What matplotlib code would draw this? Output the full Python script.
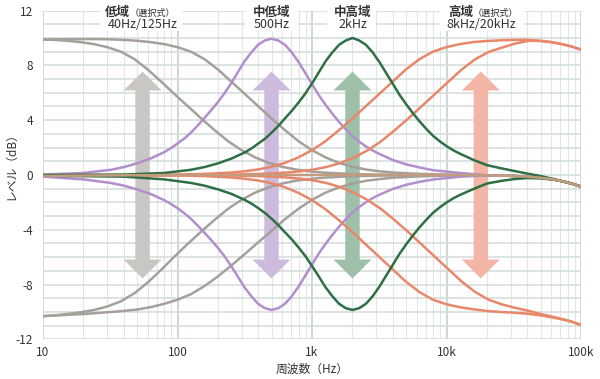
import matplotlib.pyplot as plt
import numpy as np
from matplotlib.patches import Polygon, Rectangle
from matplotlib.transforms import blended_transform_factory

plt.rcParams["font.family"] = ["Noto Sans CJK JP", "DejaVu Sans"]
plt.rcParams["axes.unicode_minus"] = False

# common high-frequency roll-off read at the right edge
TAIL_FREQ = [20000, 30000, 40000, 50000, 60000, 70000, 85000, 100000]
TAIL_LEVEL = [-0.02, -0.06, -0.12, -0.2, -0.3, -0.42, -0.62, -0.85]

# low band shelves (gray)
LOW40_FREQ = [10, 12, 15, 19, 24, 30, 38, 48, 60, 76, 95, 120, 151, 190, 239, 301, 379, 478, 601, 757, 953, 1200, 1900, 3000, 6000]
LOW40_BOOST = [9.9, 9.86, 9.8, 9.7, 9.55, 9.33, 9.0, 8.45, 7.7, 6.8, 5.9, 5.0, 4.1, 3.25, 2.45, 1.8, 1.28, 0.88, 0.6, 0.4, 0.27, 0.18, 0.08, 0.03, 0.0]
LOW40_CUT = [-10.3, -10.25, -10.15, -10.02, -9.85, -9.6, -9.22, -8.62, -7.85, -6.9, -5.95, -5.0, -4.1, -3.25, -2.45, -1.8, -1.28, -0.9, -0.62, -0.42, -0.3, -0.2, -0.1, -0.05, -0.02]

LOW125_FREQ = [10, 20, 25, 32, 40, 50, 63, 80, 100, 126, 159, 200, 252, 318, 400, 504, 634, 798, 1005, 1265, 1592, 2005, 2524, 3177, 4000, 6340, 10050]
LOW125_BOOST = [9.9, 9.92, 9.92, 9.9, 9.86, 9.8, 9.7, 9.55, 9.33, 9.0, 8.45, 7.7, 6.8, 5.9, 5.0, 4.1, 3.25, 2.45, 1.8, 1.28, 0.88, 0.6, 0.4, 0.27, 0.18, 0.08, 0.03]
LOW125_CUT = [-10.3, -10.15, -10.08, -10.0, -9.92, -9.82, -9.65, -9.4, -9.1, -8.7, -8.1, -7.4, -6.6, -5.75, -4.9, -4.05, -3.2, -2.45, -1.8, -1.28, -0.9, -0.62, -0.42, -0.3, -0.2, -0.1, -0.04]

# low-mid bell 500 Hz (purple)
MID500_FREQ = [10, 20, 32, 40, 50, 63, 79, 89, 100, 112, 126, 141, 158, 177, 199, 223, 251, 281, 315, 354, 397, 446,
               500, 561, 630, 707, 794, 891, 998, 1120, 1256, 1409, 1581, 1774, 1991, 2234, 2506, 2812, 3155, 3972, 5000, 6295, 7924, 12560]
MID500_BOOST = [0.03, 0.15, 0.38, 0.58, 0.85, 1.2, 1.65, 1.95, 2.3, 2.65, 3.1, 3.6, 4.15, 4.7, 5.3, 5.95, 6.7, 7.5, 8.3, 8.95, 9.5, 9.82,
                9.95, 9.82, 9.5, 8.95, 8.25, 7.45, 6.65, 5.85, 5.15, 4.5, 3.9, 3.35, 2.85, 2.45, 2.1, 1.8, 1.55, 1.1, 0.78, 0.55, 0.35, 0.15]
MID500_CUT = [-0.12, -0.32, -0.58, -0.78, -1.05, -1.38, -1.82, -2.1, -2.42, -2.78, -3.2, -3.68, -4.2, -4.72, -5.3, -5.92, -6.65, -7.42, -8.2, -8.85, -9.4, -9.72,
              -9.85, -9.72, -9.4, -8.85, -8.15, -7.35, -6.55, -5.75, -5.05, -4.4, -3.8, -3.25, -2.75, -2.35, -2.0, -1.7, -1.45, -1.02, -0.72, -0.5, -0.33, -0.13]

# high-mid bell 2 kHz (green)
MID2K_FREQ = [10, 40, 80, 126, 159, 200, 252, 317, 356, 399, 448, 502, 564, 632, 710, 796, 893, 1002, 1125, 1262, 1416, 1589, 1783,
              2000, 2244, 2518, 2825, 3170, 3557, 3991, 4477, 5024, 5637, 6325, 7096, 7962, 8934, 10024, 11247, 12619, 15887,
              20000, 25179, 31698, 40000, 50238, 63000, 70000, 85000, 100000]
MID2K_BOOST = [0.0, 0.03, 0.15, 0.38, 0.58, 0.85, 1.2, 1.65, 1.95, 2.3, 2.65, 3.1, 3.6, 4.15, 4.7, 5.3, 5.95, 6.7, 7.5, 8.3, 8.95, 9.5, 9.82,
               10.0, 9.82, 9.5, 8.95, 8.25, 7.45, 6.65, 5.85, 5.15, 4.5, 3.9, 3.35, 2.85, 2.45, 2.1, 1.8, 1.55, 1.1,
               0.72, 0.5, 0.3, 0.1, -0.08, -0.3, -0.42, -0.62, -0.85]
MID2K_CUT = [-0.05, -0.12, -0.32, -0.58, -0.78, -1.05, -1.38, -1.82, -2.1, -2.42, -2.78, -3.2, -3.68, -4.2, -4.72, -5.3, -5.92, -6.65, -7.42, -8.2, -8.85, -9.4, -9.72,
             -9.85, -9.72, -9.4, -8.85, -8.15, -7.35, -6.55, -5.75, -5.05, -4.4, -3.8, -3.25, -2.75, -2.35, -2.0, -1.7, -1.45, -1.02,
             -0.62, -0.44, -0.3, -0.22, -0.25, -0.34, -0.42, -0.62, -0.85]

# high band shelves (orange)
HI8K_FREQ = [10, 100, 158, 250, 315, 396, 499, 628, 791, 995, 1253, 1577, 1986, 2500, 3147, 3962, 4988, 6280, 7906, 9953,
             12530, 15774, 19858, 25000, 31473, 39622, 50000, 60000, 70000, 85000, 100000]
HI8K_BOOST = [-0.03, 0.03, 0.08, 0.18, 0.27, 0.4, 0.6, 0.88, 1.28, 1.8, 2.45, 3.25, 4.1, 5.0, 5.9, 6.8, 7.7, 8.45, 9.0, 9.33,
              9.55, 9.7, 9.78, 9.83, 9.86, 9.87, 9.8, 9.7, 9.58, 9.38, 9.15]
HI8K_CUT = [-0.05, -0.03, -0.08, -0.18, -0.27, -0.4, -0.6, -0.89, -1.3, -1.82, -2.48, -3.28, -4.14, -5.05, -5.96, -6.87, -7.78, -8.54, -9.1, -9.43,
            -9.65, -9.8, -9.92, -10.0, -10.05, -10.12, -10.25, -10.38, -10.5, -10.7, -10.95]

HI20K_FREQ = [10, 100, 259, 410, 650, 818, 1030, 1297, 1633, 2055, 2588, 3258, 4101, 5163, 6500, 8183, 10302, 12969, 16327,
              20555, 25877, 32577, 41012, 50000, 60000, 70000, 85000, 100000]
HI20K_BOOST = [-0.03, 0.0, 0.03, 0.08, 0.18, 0.27, 0.4, 0.6, 0.88, 1.28, 1.8, 2.45, 3.25, 4.1, 5.0, 5.9, 6.8, 7.7, 8.45,
               8.98, 9.3, 9.6, 9.8, 9.78, 9.7, 9.58, 9.38, 9.15]
HI20K_CUT = [-0.05, -0.01, -0.03, -0.08, -0.18, -0.27, -0.4, -0.6, -0.89, -1.3, -1.82, -2.48, -3.28, -4.14, -5.05, -5.96, -6.87, -7.78, -8.54,
             -9.1, -9.45, -9.7, -9.92, -10.15, -10.32, -10.48, -10.7, -10.95]

FLAT_FREQ = [10, 30, 100, 1000, 10000]
FLAT_LEVEL = [-0.07, -0.03, 0.0, 0.0, 0.0]

BAND_NAMES = ["低域", "中低域", "中高域", "高域"]
BAND_NOTES = ["（選択式）", "", "", "（選択式）"]
BAND_FREQ_TEXT = ["40Hz/125Hz", "500Hz", "2kHz", "8kHz/20kHz"]
ARROW_FREQS = [55, 500, 2000, 18000]

GRAY = "#a6a09b"
PURPLE = "#b28fcc"
GREEN = "#2f6f45"
ORANGE = "#e8876a"
TAN = "#c29c7c"
ARROW_COLORS = ["#c9c6c3", "#cdbbdd", "#9fc0a8", "#f3b5a6"]
GRID_H = "#d5dedc"
GRID_MINOR = "#e0e7e5"
GRID_MAJOR = "#c9d4d1"
TEXT = "#333333"
LW = 1.8
AX_W = 538

fig = plt.figure(figsize=(6.0, 3.79), dpi=100)
ax = fig.add_axes([43 / 600, 1 - 339.4 / 379, AX_W / 600, 328.8 / 379])
ax.set_xscale("log")
ax.set_xlim(10, 100000)
ax.set_ylim(-12, 12)
for s in ax.spines.values():
    s.set_visible(False)

ax.set_xticks([10, 100, 1000, 10000, 100000])
ax.set_xticklabels(["10", "100", "1k", "10k", "100k"])
ax.set_xticks([m * 10 ** e for e in range(1, 5) for m in range(2, 10)], minor=True)
ax.set_yticks(np.arange(-12, 13, 4))
ax.set_yticklabels([str(v) for v in range(-12, 13, 4)])
ax.set_yticks(np.arange(-12, 13, 1), minor=True)
ax.tick_params(which="both", length=0)
ax.tick_params(axis="y", pad=7, labelsize=8.5, labelcolor=TEXT)
ax.tick_params(axis="x", pad=5, labelsize=8.5, labelcolor=TEXT)
ax.xaxis.grid(True, which="major", color=GRID_MAJOR, lw=1.3)
ax.xaxis.grid(True, which="minor", color=GRID_MINOR, lw=0.8)
ax.yaxis.grid(True, which="both", color=GRID_H, lw=1.2)
ax.set_axisbelow(True)

# double arrows (x in axes fraction, y in dB)
trans = blended_transform_factory(ax.transAxes, ax.transData)
tip, head_len = 7.55, 1.38
head_half, shaft_half = 19 / AX_W, 7.2 / AX_W
for freq, color in zip(ARROW_FREQS, ARROW_COLORS):
    xc = np.log10(freq / 10) / 4
    pts = [
        (xc, tip), (xc + head_half, tip - head_len), (xc + shaft_half, tip - head_len),
        (xc + shaft_half, -tip + head_len), (xc + head_half, -tip + head_len), (xc, -tip),
        (xc - head_half, -tip + head_len), (xc - shaft_half, -tip + head_len),
        (xc - shaft_half, tip - head_len), (xc - head_half, tip - head_len),
    ]
    ax.add_patch(Polygon(pts, closed=True, transform=trans, facecolor=color,
                         edgecolor="none", zorder=2))


def curve(freq, level, color, tail=True, z=3):
    f = list(freq) + (TAIL_FREQ if tail else [])
    v = list(level) + (TAIL_LEVEL if tail else [])
    ax.plot(f, v, color=color, lw=LW, solid_capstyle="round",
            solid_joinstyle="round", zorder=z)


curve(LOW40_FREQ, LOW40_BOOST, GRAY)
curve(LOW40_FREQ, LOW40_CUT, GRAY)
curve(LOW125_FREQ, LOW125_BOOST, GRAY)
curve(LOW125_FREQ, LOW125_CUT, GRAY)
curve(MID500_FREQ, MID500_BOOST, PURPLE)
curve(MID500_FREQ, MID500_CUT, PURPLE)
curve(HI8K_FREQ, HI8K_BOOST, ORANGE, tail=False)
curve(HI8K_FREQ, HI8K_CUT, ORANGE, tail=False)
curve(HI20K_FREQ, HI20K_BOOST, ORANGE, tail=False)
curve(HI20K_FREQ, HI20K_CUT, ORANGE, tail=False)
curve(MID2K_FREQ, MID2K_BOOST, GREEN, tail=False, z=4)
curve(MID2K_FREQ, MID2K_CUT, GREEN, tail=False, z=4)
curve(FLAT_FREQ, FLAT_LEVEL, TAN, z=5)

# band captions: white plates over the grid (figure pixels), then the text
plates_px = [(100, 182), (245, 298), (327, 376), (440, 524)]
name_left = [62, None, None, 405]
note_left = [87, None, None, 430]
top_y, bottom_y = 0.994, 0.958
for i, (name, note, ftext) in enumerate(zip(BAND_NAMES, BAND_NOTES, BAND_FREQ_TEXT)):
    x0, x1 = plates_px[i]
    ax.add_patch(Rectangle((x0 / 600, 1 - 31 / 379), (x1 - x0) / 600, 31 / 379,
                           transform=fig.transFigure, facecolor="white",
                           edgecolor="none", zorder=6, clip_on=False))
    xc = np.log10(ARROW_FREQS[i] / 10) / 4
    if note:
        ax.text(name_left[i] / AX_W, top_y, name, transform=ax.transAxes, ha="left",
                va="center", fontsize=9, fontweight="bold", color=TEXT,
                zorder=7, clip_on=False)
        ax.text(note_left[i] / AX_W, top_y - 0.002, note, transform=ax.transAxes,
                ha="left", va="center", fontsize=6.6, color=TEXT, zorder=7,
                clip_on=False)
    else:
        ax.text(xc, top_y, name, transform=ax.transAxes, ha="center",
                va="center", fontsize=9, fontweight="bold", color=TEXT,
                zorder=7, clip_on=False)
    ax.text(xc, bottom_y, ftext, transform=ax.transAxes, ha="center",
            va="center", fontsize=9, color=TEXT, zorder=7, clip_on=False)

ax.set_xlabel("周波数（Hz）", fontsize=8.5, color=TEXT)
ax.xaxis.set_label_coords(0.5, -0.072)
ax.set_ylabel("レベル（dB）", fontsize=8.5, color=TEXT)
ax.yaxis.set_label_coords(-0.047, 0.535)

fig.savefig("out.png", dpi=100)
